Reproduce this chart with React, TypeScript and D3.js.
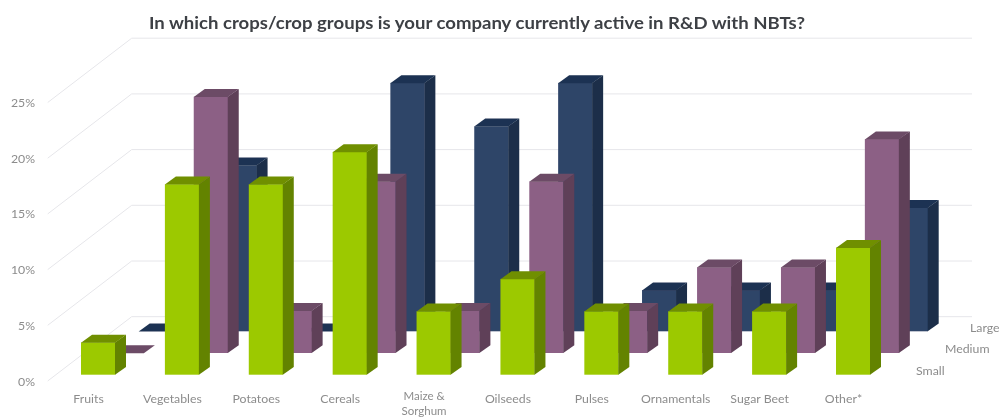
import React from "react";
import * as d3 from "d3";

const categories = ["Fruits", "Vegetables", "Potatoes", "Cereals", "Maize &|Sorghum", "Oilseeds", "Pulses", "Ornamentals", "Sugar Beet", "Other*"];
const small = [2.9, 17.1, 17.1, 20, 5.7, 8.6, 5.7, 5.7, 5.7, 11.4];
const medium = [0, 23, 3.8, 15.4, 3.8, 15.4, 3.8, 7.7, 7.7, 19.2];
const large = [0, 14.9, 0, 22.3, 18.4, 22.3, 3.7, 3.7, 3.7, 11.1];
const yTicks = [0, 5, 10, 15, 20, 25];
const seriesNames = ["Large", "Medium", "Small"];

const W = 1002, H = 418;
const catX = d3.scaleLinear().domain([0, 9]).range([81, 836]);
const heightPx = d3.scaleLinear().domain([0, 25]).range([0, 278.5]);
// depth: 0 = front plane of Small row, series offsets along the floor
const depthX = d3.scaleLinear().domain([0, 1]).range([0, 57.7]);
const depthY = d3.scaleLinear().domain([0, 1]).range([374.7, 331.3]);
const barW = 34, capX = 11, capY = 7.7;

const rows = [
  { name: "Large", values: large, d: 1, face: "#2E4468", side: "#1B2E4A", top: "#1E3352" },
  { name: "Medium", values: medium, d: 0.5, face: "#8C6085", side: "#5E3F58", top: "#6C4B66" },
  { name: "Small", values: small, d: 0, face: "#9CC900", side: "#648300", top: "#6F8F00" },
];

const poly = (pts: [number, number][]) => d3.line()(pts) + "Z";

function Bar({ x, base, h, c }: { x: number; base: number; h: number; c: (typeof rows)[number] }) {
  const t = base - h;
  return (
    <g>
      {h > 0 && <rect x={x} y={t} width={barW + 0.3} height={h} fill={c.face} />}
      {h > 0 && <path d={poly([[x + barW, t], [x + barW + capX, t - capY], [x + barW + capX, base - capY], [x + barW, base]])} fill={c.side} />}
      <path d={poly([[x, t + 0.3], [x + capX, t - capY], [x + barW + capX, t - capY], [x + barW, t + 0.3]])} fill={c.top} />
    </g>
  );
}

export default function App() {
  const font = "Lato, 'Open Sans', sans-serif";
  const backX = 131.7, frontX = 47.7, backBase = 316.7, frontBase = 381;
  const labelFill = "#8c8c8c", labelSize = 12.3;
  return (
    <svg width={W} height={H} style={{ position: "absolute", left: 0, top: 0, display: "block", background: "#fff" }} fontFamily={font}>
      <defs>
        <filter id="soft" x="-2%" y="-2%" width="104%" height="104%">
          <feGaussianBlur stdDeviation="0.55" />
        </filter>
      </defs>
      <g filter="url(#soft)">
        <text x={477} y={29} textAnchor="middle" fontSize={17.5} fontWeight={700} fill="#3c3f44" textLength={656} lengthAdjust="spacingAndGlyphs">
          In which crops/crop groups is your company currently active in R&amp;D with NBTs?
        </text>
        {yTicks.map((t) => (
          <g key={t} stroke="#e6e6ea" strokeWidth={1} fill="none">
            <line x1={frontX} y1={frontBase - heightPx(t)} x2={backX} y2={backBase - heightPx(t)} />
            <line x1={backX} y1={backBase - heightPx(t)} x2={972} y2={backBase - heightPx(t)} />
          </g>
        ))}
        {yTicks.map((t) => (
          <text key={t} x={35} y={frontBase - heightPx(t) + 4.5} textAnchor="end" fontSize={labelSize} fill={labelFill}>{t}%</text>
        ))}
        {rows.map((c) =>
          c.values.map((v, i) => (
            <Bar key={c.name + i} x={catX(i) + depthX(c.d)} base={depthY(c.d)} h={heightPx(v)} c={c} />
          ))
        )}
        {categories.map((c, i) => {
          const lines = c.split("|");
          const two = lines.length > 1;
          return (
            <text key={c} y={two ? 400 : 402.5} textAnchor="middle" fontSize={two ? 11.5 : labelSize} fill={labelFill}>
              {lines.map((l, k) => (
                <tspan key={k} x={catX(i) + 7.5} dy={k ? 14.6 : 0}>{l}</tspan>
              ))}
            </text>
          );
        })}
        {seriesNames.map((s, i) => (
          <text key={s} x={(i === 0 ? 970 : 974) - i * 29} y={331.5 + i * 21.7} fontSize={labelSize} fill={labelFill}>{s}</text>
        ))}
      </g>
    </svg>
  );
}
